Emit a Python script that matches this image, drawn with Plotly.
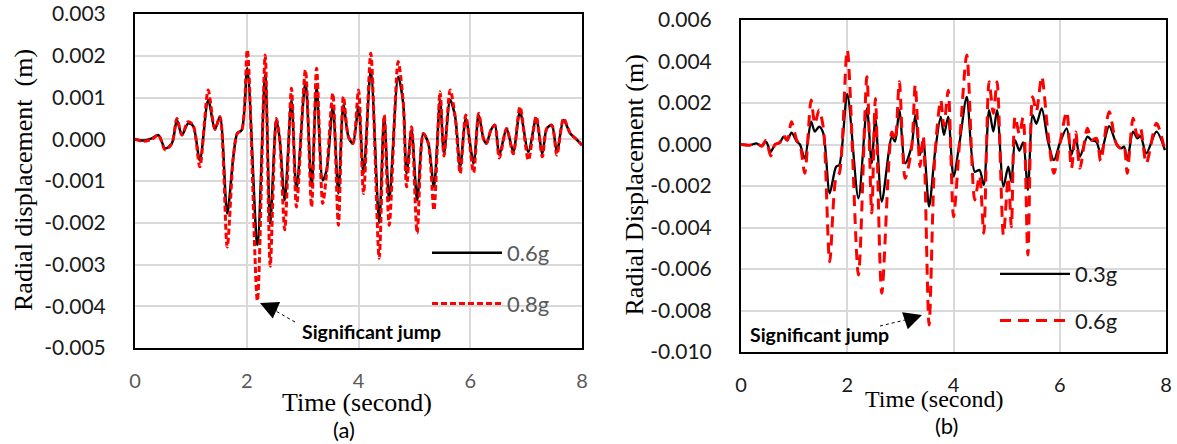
import plotly.graph_objects as go

# ---------------- data (displacement in mm, converted to m below) ----------------
# Panel (a): 0.6g vs 0.8g
time_a = [0.00, 0.15, 0.30, 0.42, 0.54, 0.66, 0.75, 0.84, 0.95, 1.04, 1.16, 1.31, 1.43, 1.52,
          1.65, 1.76, 1.83, 1.91, 2.01, 2.19, 2.33, 2.42, 2.53, 2.59, 2.68, 2.80, 2.89, 3.05,
          3.16, 3.25, 3.36, 3.43, 3.54, 3.64, 3.73, 3.82, 3.90, 4.00, 4.09, 4.22, 4.37, 4.46,
          4.55, 4.71, 4.80, 4.86, 4.95, 5.05, 5.16, 5.25, 5.35, 5.46, 5.53, 5.64, 5.73, 5.82,
          5.92, 6.06, 6.15, 6.24, 6.29, 6.37, 6.44, 6.52, 6.65, 6.77, 6.89, 7.04, 7.18, 7.29,
          7.37, 7.46, 7.55, 7.67, 7.79, 7.90, 8.00]
disp_06g = [0.00, -0.03, 0.02, 0.10, -0.22, -0.10, 0.46, 0.10, 0.38, 0.32, -0.50, 0.94, 0.24, 0.54,
            -1.78, -0.42, 0.14, 0.22, 1.70, -2.53, 1.54, -2.02, 0.46, 0.00, -1.46, 0.94, -1.22, 1.38,
            -1.14, 1.26, -0.98, -0.74, 0.78, -1.30, 0.82, 0.06, -0.10, 0.78, -0.82, 1.66, -2.00, 0.54,
            -1.46, 1.50, 0.86, -0.82, 0.22, -1.46, 0.14, -0.10, -1.14, 0.94, -0.34, 0.94, 0.54, -0.66,
            0.50, -0.58, 0.58, 0.00, -0.10, 0.22, 0.34, -0.38, 0.26, -0.30, 0.66, -0.30, 0.50, -0.34,
            0.26, 0.34, -0.30, 0.46, 0.14, 0.00, -0.14]
disp_08g = [0.00, -0.05, 0.00, 0.10, -0.25, -0.10, 0.50, 0.10, 0.42, 0.34, -0.66, 1.18, 0.24, 0.54,
            -2.58, -0.42, 0.14, 0.22, 2.14, -3.87, 2.02, -3.04, 0.50, 0.00, -2.17, 1.22, -1.62, 1.66,
            -1.62, 1.70, -1.54, -0.80, 1.10, -2.06, 1.02, 0.06, -0.10, 1.18, -1.30, 2.06, -2.85, 0.58,
            -2.06, 1.86, 0.90, -1.14, 0.30, -2.25, 0.14, -0.10, -1.70, 1.14, -0.40, 1.18, 0.54, -0.82,
            0.58, -0.80, 0.62, 0.00, -0.10, 0.22, 0.34, -0.45, 0.26, -0.35, 0.78, -0.50, 0.55, -0.42,
            0.26, 0.34, -0.38, 0.50, 0.14, 0.00, -0.14]

# Panel (b): 0.3g vs 0.6g
time_b = [0.00, 0.17, 0.29, 0.39, 0.47, 0.56, 0.64, 0.73, 0.80, 0.87, 0.95, 1.05, 1.11, 1.20,
          1.32, 1.39, 1.47, 1.55, 1.67, 1.79, 1.85, 2.00, 2.21, 2.37, 2.46, 2.53, 2.65, 2.84,
          2.90, 2.98, 3.09, 3.21, 3.28, 3.37, 3.43, 3.54, 3.65, 3.76, 3.82, 3.90, 4.00, 4.12,
          4.25, 4.40, 4.49, 4.57, 4.67, 4.75, 4.82, 4.94, 5.03, 5.09, 5.16, 5.24, 5.31, 5.40,
          5.49, 5.56, 5.66, 5.78, 5.89, 6.00, 6.13, 6.22, 6.30, 6.38, 6.52, 6.60, 6.69, 6.77,
          6.93, 7.07, 7.16, 7.21, 7.27, 7.38, 7.46, 7.52, 7.63, 7.82, 7.98]
disp_03g = [0.00, -0.03, 0.05, -0.08, 0.14, -0.35, 0.00, 0.08, 0.38, 0.20, 0.57, 0.14, 0.00, -0.67,
            1.10, 0.62, 0.86, 0.54, -2.35, -1.07, -0.99, 2.43, -2.59, 1.74, -0.90, 1.26, -2.75, 0.38,
            0.14, 1.66, -0.91, -0.10, 1.42, -0.50, 0.20, -2.99, -0.43, 1.34, 0.46, 1.34, -1.55, 0.20,
            2.30, -1.31, -1.23, -1.95, 1.66, 0.62, 1.66, -2.03, -1.07, -1.79, 0.20, -0.30, 0.10, -2.19,
            1.42, 1.00, 1.74, 0.14, -0.75, 0.05, 0.78, -0.50, 0.30, -0.59, 0.38, 0.20, 0.13, -0.43,
            0.89, 0.02, -0.18, -0.10, -0.75, 0.62, 0.30, 0.40, -0.43, 0.62, -0.27]
disp_06g_b = [0.00, -0.03, 0.05, -0.08, 0.20, -0.55, 0.00, 0.10, 0.45, 0.20, 1.10, 0.20, 0.00, -1.39,
              2.14, 1.00, 1.66, 0.80, -5.65, -1.60, -1.40, 4.55, -6.29, 3.27, -3.30, 2.22, -7.17, 0.60,
              0.20, 3.03, -1.63, -0.20, 2.87, -1.07, 0.40, -8.70, -0.50, 2.14, 0.90, 2.62, -3.48, 0.30,
              4.31, -2.67, -1.50, -4.28, 3.03, 1.50, 3.03, -4.36, -1.60, -3.96, 1.34, 0.50, 1.30, -5.33,
              2.30, 1.60, 3.27, 0.50, -1.39, 0.00, 1.58, -1.15, 0.60, -1.15, 0.78, 0.20, 0.30, -0.80,
              1.58, 0.00, -0.20, -0.10, -1.39, 1.26, 0.40, 0.78, -0.91, 1.02, -0.30]

# axis ticks
x_ticks = [0, 2, 4, 6, 8]
y_ticks_a = [-0.005, -0.004, -0.003, -0.002, -0.001, 0.000, 0.001, 0.002, 0.003]
y_labels_a = ["-0.005", "-0.004", "-0.003", "-0.002", "-0.001", "0.000", "0.001", "0.002", "0.003"]
y_ticks_b = [-0.010, -0.008, -0.006, -0.004, -0.002, 0.000, 0.002, 0.004, 0.006]
y_labels_b = ["-0.010", "-0.008", "-0.006", "-0.004", "-0.002", "0.000", "0.002", "0.004", "0.006"]

W, H = 1177, 444
SANS = "Lato"
SERIF = "Liberation Serif"


def px(x):
    return x / W


def py(y):
    return 1 - y / H


def m(vals):
    return [v / 1000 for v in vals]


fig = go.Figure()

# panel (a)
fig.add_trace(go.Scatter(x=time_a, y=m(disp_06g), name="0.6g", mode="lines",
                         line=dict(color="#000000", width=2.5, shape="spline", smoothing=0.8),
                         xaxis="x", yaxis="y", legend="legend", legendgroup="a1"))
fig.add_trace(go.Scatter(x=time_a, y=m(disp_08g), name="0.8g", mode="lines",
                         line=dict(color="#ff0000", width=3, dash="6px,3px", shape="spline", smoothing=0.8),
                         xaxis="x", yaxis="y", legend="legend", legendgroup="a2"))
# panel (b)
fig.add_trace(go.Scatter(x=time_b, y=m(disp_03g), name="0.3g", mode="lines",
                         line=dict(color="#000000", width=2.3, shape="spline", smoothing=0.8),
                         xaxis="x2", yaxis="y2", legend="legend2", legendgroup="b1"))
fig.add_trace(go.Scatter(x=time_b, y=m(disp_06g_b), name="0.6g", mode="lines",
                         line=dict(color="#ff0000", width=3, dash="11px,7px", shape="spline", smoothing=0.8),
                         xaxis="x2", yaxis="y2", legend="legend2", legendgroup="b2"))

grid = "#d9d9d9"
xcommon = dict(tickvals=x_ticks, showgrid=True, gridcolor=grid, gridwidth=1.5,
               showline=True, linecolor="#000000", linewidth=2, mirror=True,
               ticks="outside", ticklen=14, tickcolor="rgba(0,0,0,0)", zeroline=False)
ycommon = dict(showgrid=True, gridcolor=grid, gridwidth=1.5,
               showline=True, linecolor="#000000", linewidth=2, mirror=True,
               ticks="outside", ticklen=23, tickcolor="rgba(0,0,0,0)", zeroline=False,
               tickfont=dict(family=SANS, size=21, color="#1a1a1a"))

fig.update_layout(
    width=W, height=H,
    margin=dict(l=0, r=0, t=0, b=0, autoexpand=False),
    paper_bgcolor="white", plot_bgcolor="white",
    xaxis=dict(domain=[px(135), px(582)], range=[0, 8], anchor="y",
               tickfont=dict(family=SANS, size=20, color="#595959"), **xcommon),
    yaxis=dict(domain=[py(348), py(14)], range=[-0.005, 0.003], anchor="x",
               tickvals=y_ticks_a, ticktext=y_labels_a, **ycommon),
    xaxis2=dict(domain=[px(741), px(1166)], range=[0, 8], anchor="y2",
                tickfont=dict(family=SANS, size=20, color="#1a1a1a"), **xcommon),
    yaxis2=dict(domain=[py(352), py(20)], range=[-0.010, 0.006], anchor="x2",
                tickvals=y_ticks_b, ticktext=y_labels_b, **ycommon),
    legend=dict(x=px(427), y=py(232), xanchor="left", yanchor="top",
                bgcolor="rgba(0,0,0,0)", itemwidth=70, traceorder="grouped", tracegroupgap=19,
                font=dict(family=SANS, size=22, color="#595959")),
    legend2=dict(x=px(995), y=py(253), xanchor="left", yanchor="top",
                 bgcolor="rgba(0,0,0,0)", itemwidth=70, traceorder="grouped", tracegroupgap=15,
                 font=dict(family=SANS, size=22, color="#1a1a1a")),
)

annotations = [
    # axis titles
    dict(text="Time (second)", x=px(357), y=py(402), font=dict(family=SERIF, size=26, color="#000")),
    dict(text="Time (second)", x=px(934), y=py(399), font=dict(family=SERIF, size=24, color="#000")),
    dict(text="Radial displacement\u00a0 (m)", x=px(23), y=py(180), textangle=-90,
         font=dict(family=SERIF, size=26, color="#000")),
    dict(text="Radial Displacement (m)", x=px(634), y=py(185.5), textangle=-90,
         font=dict(family=SERIF, size=26, color="#000")),
    # panel captions
    dict(text="(a)", x=px(344), y=py(429), font=dict(family=SANS, size=22, color="#000")),
    dict(text="(b)", x=px(946.5), y=py(425), font=dict(family=SANS, size=22, color="#000")),
    # callouts
    dict(text="<b>Significant jump</b>", x=px(371), y=py(331), font=dict(family=SANS, size=19.5, color="#000")),
    dict(text="<b>Significant jump</b>", x=px(819), y=py(334), font=dict(family=SANS, size=19.5, color="#000")),
]
for a in annotations:
    a.update(xref="paper", yref="paper", showarrow=False, xanchor="center", yanchor="middle")

# arrow heads of the callouts
annotations += [
    dict(x=px(260), y=py(303), xref="paper", yref="paper", text="", showarrow=True,
         ax=18, ay=8, arrowhead=2, arrowsize=2, arrowwidth=1.8, arrowcolor="#000"),
    dict(x=px(922), y=py(315), xref="paper", yref="paper", text="", showarrow=True,
         ax=-18, ay=6, arrowhead=2, arrowsize=2, arrowwidth=1.8, arrowcolor="#000"),
]
fig.update_layout(annotations=annotations)

# dotted leader lines of the callouts
fig.update_layout(shapes=[
    dict(type="line", xref="paper", yref="paper", x0=px(295), y0=py(322), x1=px(274), y1=py(310),
         line=dict(color="#000", width=1, dash="dot")),
    dict(type="line", xref="paper", yref="paper", x0=px(880), y0=py(326), x1=px(905), y1=py(320),
         line=dict(color="#000", width=1, dash="dot")),
])

fig.write_html("out.html")
